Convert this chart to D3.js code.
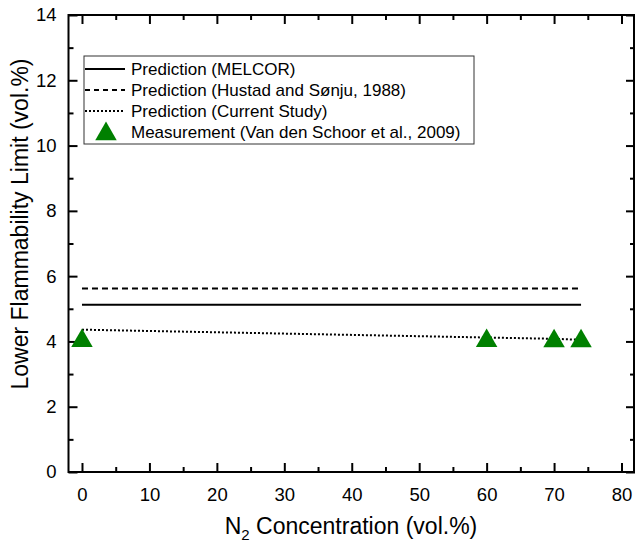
<!DOCTYPE html>
<html>
<head>
<meta charset="utf-8">
<script src="https://cdn.jsdelivr.net/npm/d3@7"></script>
<style>
  body { margin: 0; background: #fff; }
  text { font-family: "Liberation Sans", Arial, sans-serif; }
</style>
</head>
<body>
<div id="chart"></div>
<script>
// données
var n2Pred = [0, 74];
var melcor = [5.12, 5.12];
var hustad = [5.62, 5.62];
var n2Curr = [0, 60, 70, 74];
var current = [4.36, 4.12, 4.08, 4.05];
var n2Meas = [0, 60, 70, 74];
var measured = [4.08, 4.08, 4.07, 4.07];

var xTicks = [0, 10, 20, 30, 40, 50, 60, 70, 80];
var yTicks = [0, 2, 4, 6, 8, 10, 12, 14];

var legendLabels = [
  'Prediction (MELCOR)',
  'Prediction (Hustad and Sønju, 1988)',
  'Prediction (Current Study)',
  'Measurement (Van den Schoor et al., 2009)'
];

var W = 636, H = 543;
var m = {left: 68.5, right: 1, top: 15, bottom: 71};

var svg = d3.select('#chart').append('svg')
  .attr('width', W)
  .attr('height', H);

var x = d3.scaleLinear().domain([-2, 82]).range([m.left, W - m.right]);
var y = d3.scaleLinear().domain([0, 14]).range([H - m.bottom, m.top]);

var minorX = d3.range(5, 80, 10);
var minorY = d3.range(1, 14, 2);

// axes avec ticks vers l'intérieur
function drawAxis(axis, tr, major, minor, labels) {
  var g = svg.append('g').attr('transform', tr)
    .call(axis.tickValues(major).tickSizeInner(-9).tickSizeOuter(0).tickPadding(labels ? 16 : 0)
      .tickFormat(labels ? d3.format('d') : ''));
  g.select('.domain').remove();
  g.selectAll('.tick line').attr('stroke', '#000').attr('stroke-width', 2);
  g.selectAll('.tick text').attr('font-size', 18.5).attr('fill', '#000');
  var g2 = svg.append('g').attr('transform', tr)
    .call(axis.tickValues(minor).tickSizeInner(-5).tickFormat(''));
  g2.select('.domain').remove();
  g2.selectAll('.tick line').attr('stroke', '#000').attr('stroke-width', 2);
  return g;
}

var bx = drawAxis(d3.axisBottom(x), 'translate(0,' + (H - m.bottom) + ')', xTicks, minorX, true);
bx.selectAll('.tick text').attr('dy', '0.71em');
drawAxis(d3.axisTop(x), 'translate(0,' + m.top + ')', xTicks, minorX, false);
var ly = drawAxis(d3.axisLeft(y), 'translate(' + m.left + ',0)', yTicks, minorY, true);
ly.selectAll('.tick text').attr('dx', '4');
drawAxis(d3.axisRight(y), 'translate(' + (W - m.right) + ',0)', yTicks, minorY, false);

// cadre
svg.append('rect')
  .attr('x', m.left).attr('y', m.top)
  .attr('width', W - m.right - m.left - 1).attr('height', H - m.bottom - m.top)
  .attr('fill', 'none').attr('stroke', '#000').attr('stroke-width', 2);

var line = d3.line().x(function(d) { return x(d[0]); }).y(function(d) { return y(d[1]); });

svg.append('path')
  .attr('d', line(d3.zip(n2Pred, hustad)))
  .attr('fill', 'none').attr('stroke', '#000').attr('stroke-width', 2)
  .attr('stroke-dasharray', '6,4');

svg.append('path')
  .attr('d', line(d3.zip(n2Pred, melcor)))
  .attr('fill', 'none').attr('stroke', '#000').attr('stroke-width', 2);

svg.append('path')
  .attr('d', line(d3.zip(n2Curr, current)))
  .attr('fill', 'none').attr('stroke', '#000').attr('stroke-width', 2)
  .attr('stroke-dasharray', '2,2');

var tri = d3.symbol().type(d3.symbolTriangle).size(200);

svg.selectAll('path.meas')
  .data(d3.zip(n2Meas, measured)).enter()
  .append('path')
  .attr('class', 'meas')
  .attr('d', tri)
  .attr('transform', function(d) { return 'translate(' + x(d[0]) + ',' + (y(d[1]) + 2) + ')'; })
  .attr('fill', '#008000');

// légende
var lg = svg.append('g').attr('transform', 'translate(84,56)');
lg.append('rect')
  .attr('width', 390).attr('height', 88)
  .attr('fill', '#fff').attr('stroke', '#333').attr('stroke-width', 1);

var dashes = [null, '5,4', '2,2', 'tri'];
lg.selectAll('g.item')
  .data(legendLabels).enter()
  .append('g')
  .attr('class', 'item')
  .attr('transform', function(d, i) { return 'translate(0,' + (13 + i * 21) + ')'; })
  .each(function(d, i) {
    var g = d3.select(this);
    if (dashes[i] === 'tri') {
      g.append('path').attr('d', tri).attr('transform', 'translate(22,2)').attr('fill', '#008000');
    } else {
      g.append('line').attr('x1', 1).attr('x2', 41)
        .attr('stroke', '#000').attr('stroke-width', 2)
        .attr('stroke-dasharray', dashes[i]);
    }
    g.append('text').attr('x', 47).attr('dy', '0.35em')
      .attr('font-size', 17).text(d);
  });

// titres
svg.append('text')
  .attr('transform', 'translate(28,224) rotate(-90)')
  .attr('text-anchor', 'middle')
  .attr('font-size', 23)
  .text('Lower Flammability Limit (vol.%)');

var xt = svg.append('text')
  .attr('x', 351).attr('y', 534)
  .attr('text-anchor', 'middle')
  .attr('font-size', 23);
xt.append('tspan').text('N');
xt.append('tspan').attr('font-size', 15).attr('dy', 6).text('2');
xt.append('tspan').attr('dy', -6).text(' Concentration (vol.%)');
</script>
</body>
</html>
